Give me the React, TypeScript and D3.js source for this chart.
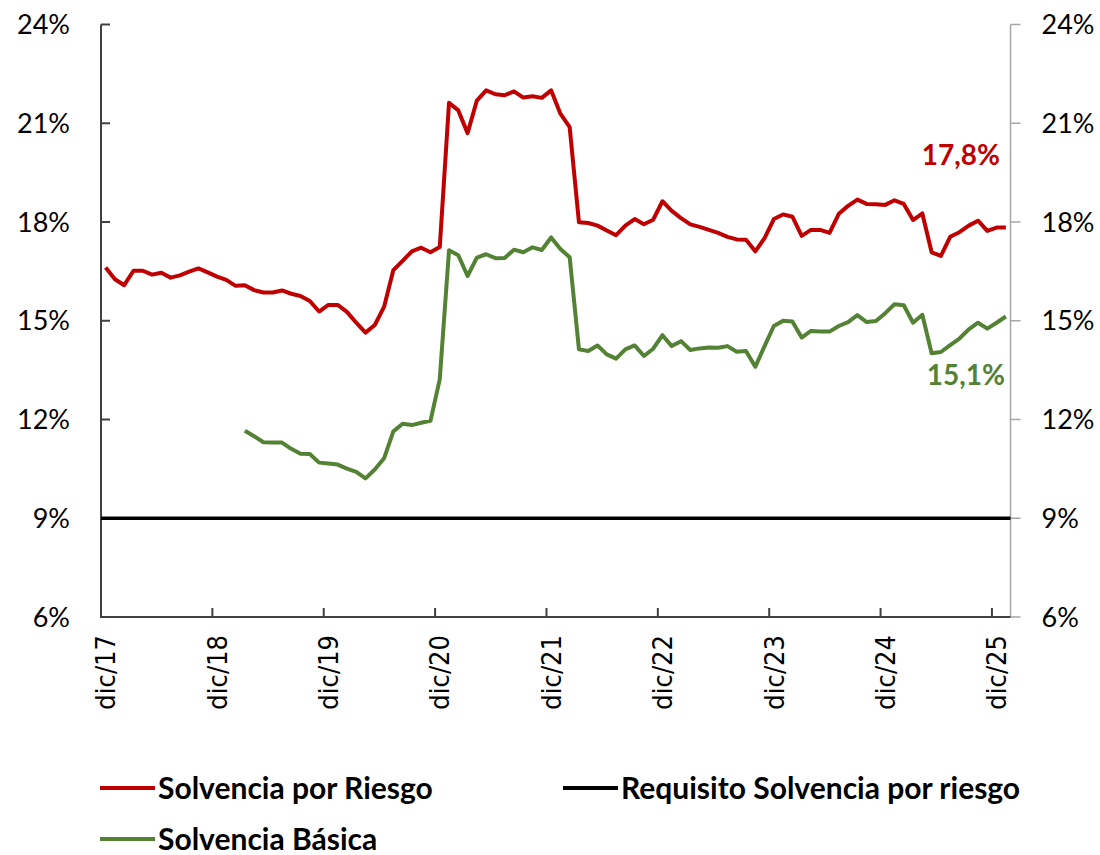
import React, { useEffect, useRef } from "react";
import * as d3 from "d3";

// monthly values, dic/17 .. ene/26
const solvenciaRiesgo = [
  16.62, 16.26, 16.08, 16.52, 16.52, 16.4, 16.46, 16.31, 16.38, 16.49, 16.59, 16.47,
  16.34, 16.24, 16.06, 16.08, 15.93, 15.86, 15.86, 15.92, 15.82, 15.75, 15.6, 15.28,
  15.48, 15.48, 15.27, 14.94, 14.64, 14.87, 15.42, 16.54, 16.82, 17.11, 17.22, 17.08,
  17.24, 21.62, 21.39, 20.7, 21.69, 22.0, 21.88, 21.85, 21.97, 21.78, 21.82, 21.77,
  22.0, 21.29, 20.88, 17.99, 17.97, 17.89, 17.74, 17.6, 17.89, 18.09, 17.93, 18.07,
  18.63, 18.34, 18.12, 17.93, 17.85, 17.76, 17.67, 17.55, 17.47, 17.46, 17.11, 17.51,
  18.09, 18.23, 18.16, 17.58, 17.76, 17.76, 17.67, 18.25, 18.49, 18.68, 18.55, 18.54,
  18.52, 18.66, 18.55, 18.06, 18.26, 17.08, 16.97, 17.55, 17.69, 17.89, 18.04, 17.73,
  17.83, 17.83,
];

const solvenciaBasica = [
  null, null, null, null, null, null, null, null, null, null, null, null,
  null, null, null, 11.66, 11.49, 11.31, 11.3, 11.3, 11.11, 10.96, 10.95, 10.69,
  10.66, 10.63, 10.51, 10.41, 10.21, 10.48, 10.82, 11.64, 11.87, 11.83, 11.9, 11.96,
  13.22, 17.14, 16.99, 16.36, 16.92, 17.02, 16.9, 16.91, 17.16, 17.08, 17.23, 17.15,
  17.53, 17.18, 16.93, 14.13, 14.08, 14.25, 13.98, 13.85, 14.13, 14.25, 13.93, 14.15,
  14.56, 14.23, 14.38, 14.11, 14.16, 14.19, 14.18, 14.23, 14.06, 14.08, 13.6, 14.23,
  14.84, 15.0, 14.98, 14.49, 14.69, 14.67, 14.67, 14.84, 14.96, 15.17, 14.96, 14.99,
  15.23, 15.5, 15.47, 14.94, 15.18, 14.01, 14.05, 14.26, 14.46, 14.74, 14.94, 14.76,
  14.94, 15.13,
];

const requisito = 9;

const tickLabels = ["dic/17", "dic/18", "dic/19", "dic/20", "dic/21", "dic/22", "dic/23", "dic/24", "dic/25"];
const yTicks = [6, 9, 12, 15, 18, 21, 24];

const RED = "#C00000";
const GREEN = "#548235";
const numFont = "Lato, 'Open Sans', sans-serif";

export default function App() {
  const ref = useRef<SVGSVGElement | null>(null);

  useEffect(() => {
    const svg = d3.select(ref.current);
    svg.selectAll("*").remove();

    const n = solvenciaRiesgo.length;
    const left = 101;
    const right = 1010.5;
    const top = 24.5;
    const bottom = 617;

    // categories sit between tick marks
    const x = d3.scaleLinear().domain([0, n]).range([left, right]);
    const y = d3.scaleLinear().domain([6, 24]).range([bottom, top]);

    // left axis
    const yl = svg.append("g").attr("transform", `translate(${left},0)`);
    yl.append("line").attr("y1", top).attr("y2", bottom).attr("stroke", "#404040").attr("stroke-width", 2);
    yl.selectAll("line.t")
      .data(yTicks)
      .enter()
      .append("line")
      .attr("class", "t")
      .attr("x1", 0)
      .attr("x2", 9)
      .attr("y1", (d) => y(d))
      .attr("y2", (d) => y(d))
      .attr("stroke", "#404040")
      .attr("stroke-width", 2);
    yl.selectAll("text")
      .data(yTicks)
      .enter()
      .append("text")
      .attr("x", -31)
      .attr("y", (d) => y(d))
      .attr("dy", "0.36em")
      .attr("text-anchor", "end")
      .style("font-family", numFont)
      .style("font-size", "27px")
      .text((d) => d + "%");

    // right axis
    const yr = svg.append("g").attr("transform", `translate(${right},0)`);
    yr.append("line").attr("y1", top).attr("y2", bottom).attr("stroke", "#A6A6A6").attr("stroke-width", 1.5);
    yr.selectAll("line.t")
      .data(yTicks)
      .enter()
      .append("line")
      .attr("class", "t")
      .attr("x1", 0)
      .attr("x2", 10)
      .attr("y1", (d) => y(d))
      .attr("y2", (d) => y(d))
      .attr("stroke", "#A6A6A6")
      .attr("stroke-width", 1.5);
    yr.selectAll("text")
      .data(yTicks)
      .enter()
      .append("text")
      .attr("x", 31)
      .attr("y", (d) => y(d))
      .attr("dy", "0.36em")
      .style("font-family", numFont)
      .style("font-size", "27px")
      .text((d) => d + "%");

    // bottom axis
    const xa = svg.append("g");
    xa.append("line")
      .attr("x1", left - 1)
      .attr("x2", right)
      .attr("y1", bottom)
      .attr("y2", bottom)
      .attr("stroke", "#404040")
      .attr("stroke-width", 2);
    xa.selectAll("line.t")
      .data(tickLabels)
      .enter()
      .append("line")
      .attr("class", "t")
      .attr("x1", (d, i) => x(i * 12))
      .attr("x2", (d, i) => x(i * 12))
      .attr("y1", bottom)
      .attr("y2", bottom - 9)
      .attr("stroke", "#404040")
      .attr("stroke-width", 2);
    xa.selectAll("text")
      .data(tickLabels)
      .enter()
      .append("text")
      .attr("transform", (d, i) => `translate(${x(i * 12 + 0.5)},${bottom + 18}) rotate(-90)`)
      .attr("dy", "0.36em")
      .attr("text-anchor", "end")
      .style("font-family", "'DejaVu Sans Condensed', 'DejaVu Sans', sans-serif")
      .style("font-size", "27px")
      .text((d) => d);

    // requisito line
    svg.append("line")
      .attr("x1", x(0))
      .attr("x2", right)
      .attr("y1", y(requisito))
      .attr("y2", y(requisito))
      .attr("stroke", "#000")
      .attr("stroke-width", 3.5);

    const line = d3
      .line<number | null>()
      .defined((d) => d != null)
      .x((d, i) => x(i + 0.5))
      .y((d) => y(d as number));

    svg.append("path")
      .datum(solvenciaBasica)
      .attr("d", line)
      .attr("fill", "none")
      .attr("stroke", GREEN)
      .attr("stroke-width", 4)
      .attr("stroke-linejoin", "round");

    svg.append("path")
      .datum(solvenciaRiesgo)
      .attr("d", line)
      .attr("fill", "none")
      .attr("stroke", RED)
      .attr("stroke-width", 4)
      .attr("stroke-linejoin", "round");

    // end labels
    const fmt = (v: number) => v.toFixed(1).replace(".", ",") + "%";
    svg.append("text")
      .attr("x", 1000)
      .attr("y", 165)
      .attr("text-anchor", "end")
      .attr("fill", RED)
      .style("font-family", numFont)
      .style("font-weight", "bold")
      .style("font-size", "28px")
      .text(fmt(solvenciaRiesgo[n - 1]));
    svg.append("text")
      .attr("x", 1005)
      .attr("y", 385)
      .attr("text-anchor", "end")
      .attr("fill", GREEN)
      .style("font-family", numFont)
      .style("font-weight", "bold")
      .style("font-size", "28px")
      .text(fmt(solvenciaBasica[n - 1] as number));

    // legend
    const legend = [
      { name: "Solvencia por Riesgo", color: RED, lx: 100, ly: 788 },
      { name: "Requisito Solvencia por riesgo", color: "#000", lx: 563, ly: 788 },
      { name: "Solvencia Básica", color: GREEN, lx: 100, ly: 839 },
    ];
    const lg = svg.selectAll("g.legend").data(legend).enter().append("g").attr("class", "legend");
    lg.append("line")
      .attr("x1", (d) => d.lx)
      .attr("x2", (d) => d.lx + 55)
      .attr("y1", (d) => d.ly)
      .attr("y2", (d) => d.ly)
      .attr("stroke", (d) => d.color)
      .attr("stroke-width", 4);
    lg.append("text")
      .attr("x", (d) => d.lx + 58)
      .attr("y", (d) => d.ly)
      .attr("dy", "0.36em")
      .style("font-family", numFont)
      .style("font-weight", "bold")
      .style("font-size", "30px")
      .text((d) => d.name);
  }, []);

  return (
    <svg
      ref={ref}
      width={1100}
      height={855}
      style={{ position: "absolute", left: 0, top: 0, background: "#fff" }}
    />
  );
}
